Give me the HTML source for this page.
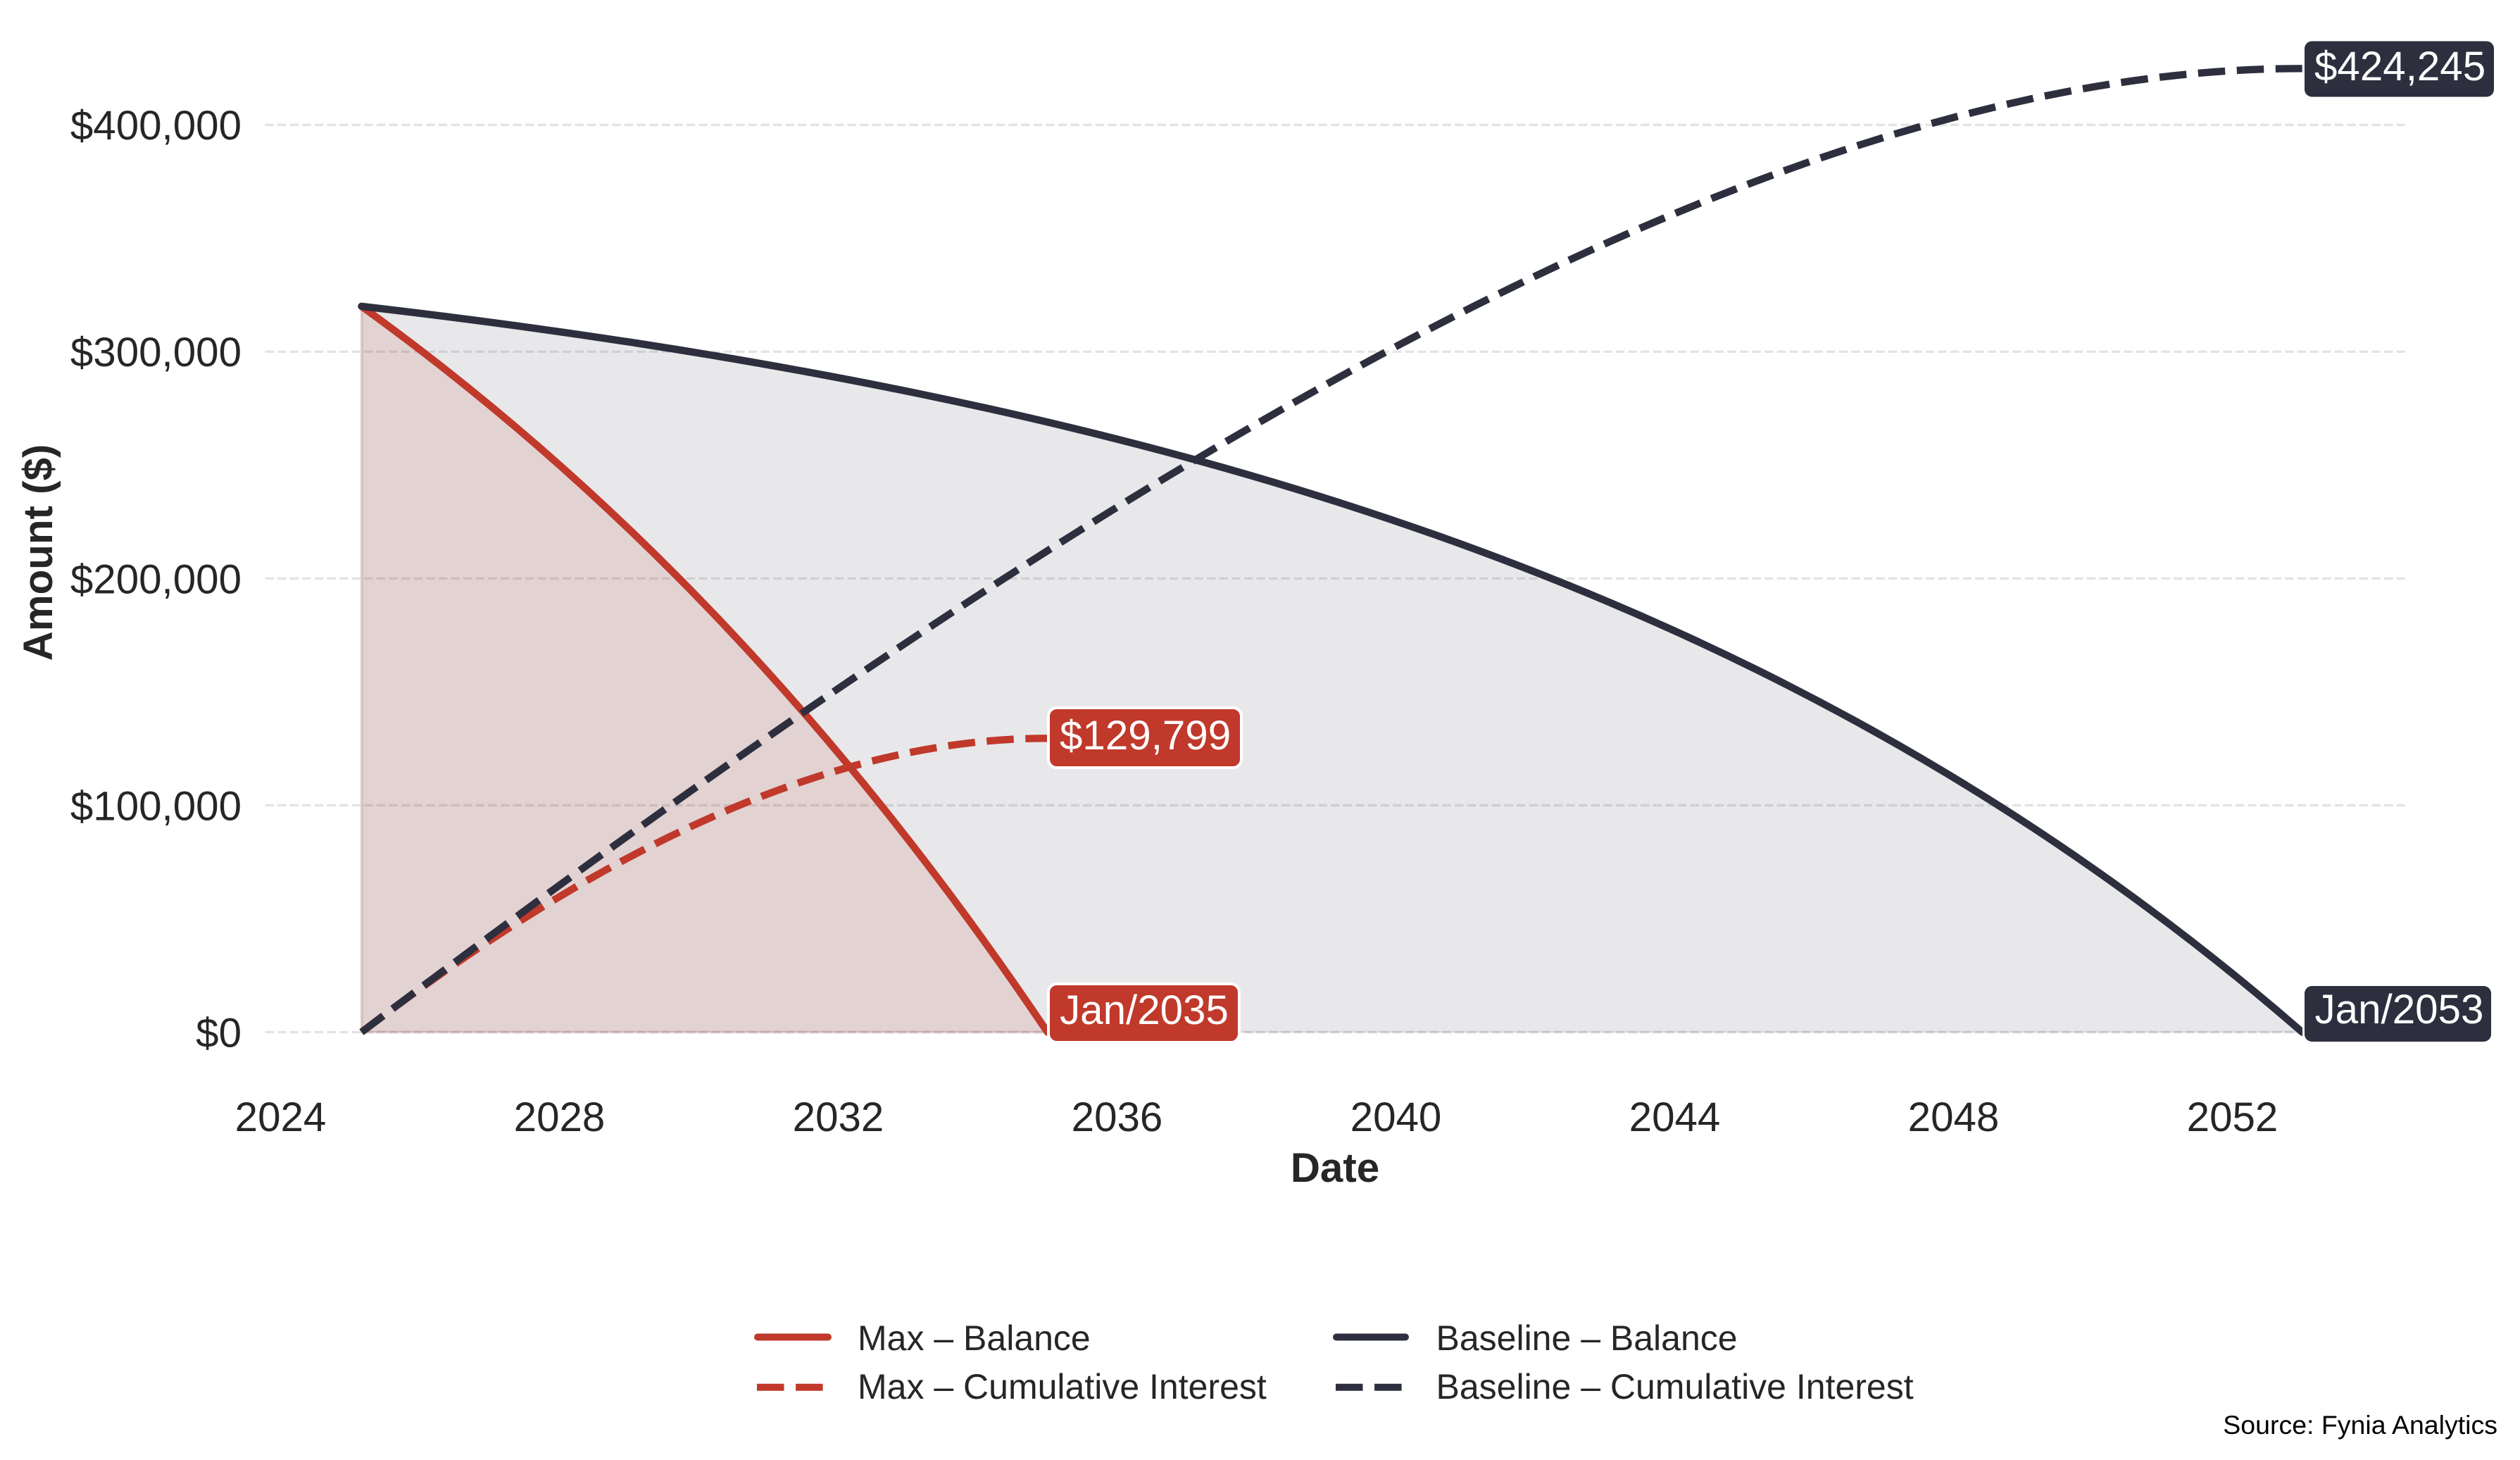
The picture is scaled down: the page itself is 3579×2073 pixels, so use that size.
<!DOCTYPE html>
<html>
<head>
<meta charset="utf-8">
<style>
  html,body{margin:0;padding:0;background:#fff;}
  svg{display:block;}
  text{font-family:"Liberation Sans",Arial,sans-serif;}
</style>
</head>
<body>
<svg xmlns="http://www.w3.org/2000/svg" width="3579" height="2073" viewBox="0 0 3579 2073">
  <rect x="0" y="0" width="3579" height="2073" fill="#ffffff"/>

  <!-- gridlines -->
  <g stroke="#e3e3e3" stroke-width="3.3" stroke-dasharray="12.3 5.3" fill="none">
    <line x1="376.5" y1="177.3" x2="3415.7" y2="177.3"/>
    <line x1="376.5" y1="499.35" x2="3415.7" y2="499.35"/>
    <line x1="376.5" y1="821.4" x2="3415.7" y2="821.4"/>
    <line x1="376.5" y1="1143.45" x2="3415.7" y2="1143.45"/>
    <line x1="376.5" y1="1465.5" x2="3415.7" y2="1465.5"/>
  </g>

  <!-- fills -->
  <path d="M513.5,434.94 C645.5,450.20 777.5,467.67 909.5,488.07 C1041.5,508.47 1173.5,531.80 1305.5,559.06 C1437.5,586.32 1569.5,617.52 1701.5,653.95 C1833.5,690.39 1965.5,732.06 2097.5,780.75 C2229.5,829.44 2361.5,885.14 2493.5,950.21 C2625.5,1015.28 2757.5,1089.72 2889.5,1176.69 C3016.22,1260.18 3142.94,1355.21 3269.66,1465.5 L513.5,1465.5 Z"
        fill="#2E2F3E" fill-opacity="0.11" stroke="#2E2F3E" stroke-opacity="0.08" stroke-width="4"/>
  <path d="M513.5,434.94 C596,494.43 678.5,559.36 761,630.85 C843.5,702.34 926,780.38 1008.5,866.29 C1091,952.20 1173.5,1045.99 1256,1149.23 C1333.22,1245.86 1410.44,1350.74 1487.66,1465.5 L513.5,1465.5 Z"
        fill="#C0392B" fill-opacity="0.12" stroke="#C0392B" stroke-opacity="0.1" stroke-width="4"/>

  <!-- Max lines -->
  <path d="M513.5,434.94 C596,494.43 678.5,559.36 761,630.85 C843.5,702.34 926,780.38 1008.5,866.29 C1091,952.20 1173.5,1045.99 1256,1149.23 C1333.22,1245.86 1410.44,1350.74 1487.66,1465.5"
        fill="none" stroke="#C0392B" stroke-width="10.4" stroke-linecap="round" stroke-linejoin="round"/>
  <path d="M513.5,1465.5 C596,1402.38 678.5,1344.71 761,1293.59 C843.5,1242.47 926,1197.89 1008.5,1161.19 C1091,1124.49 1173.5,1095.68 1256,1076.31 C1333.22,1058.18 1410.44,1048.30 1487.66,1048.30"
        fill="none" stroke="#C0392B" stroke-width="10.4" stroke-dasharray="38.5 16.6" stroke-linecap="butt"/>

  <!-- Baseline lines -->
  <path d="M513.5,434.94 C645.5,450.20 777.5,467.67 909.5,488.07 C1041.5,508.47 1173.5,531.80 1305.5,559.06 C1437.5,586.32 1569.5,617.52 1701.5,653.95 C1833.5,690.39 1965.5,732.06 2097.5,780.75 C2229.5,829.44 2361.5,885.14 2493.5,950.21 C2625.5,1015.28 2757.5,1089.72 2889.5,1176.69 C3016.22,1260.18 3142.94,1355.21 3269.66,1465.5"
        fill="none" stroke="#2E2F3E" stroke-width="10.4" stroke-linecap="round" stroke-linejoin="round"/>
  <path d="M513.5,1465.5 C645.5,1365.88 777.5,1268.45 909.5,1173.97 C1041.5,1079.49 1173.5,987.94 1305.5,900.32 C1437.5,812.70 1569.5,729.00 1701.5,650.55 C1833.5,572.10 1965.5,498.89 2097.5,432.70 C2229.5,366.51 2361.5,307.33 2493.5,257.52 C2625.5,207.71 2757.5,167.26 2889.5,139.34 C3016.22,112.54 3142.94,97.28 3269.66,97.28"
        fill="none" stroke="#2E2F3E" stroke-width="10.4" stroke-dasharray="38.5 16.6" stroke-linecap="butt"/>

  <!-- value labels -->
  <rect x="3271.5" y="57" width="272" height="82" rx="12" ry="12" fill="#2E2F3E" stroke="#ffffff" stroke-width="3"/>
  <text x="3287" y="114" font-size="58.3" fill="#ffffff">$424,245</text>

  <rect x="1489" y="1005" width="274" height="85" rx="12" ry="12" fill="#C0392B" stroke="#ffffff" stroke-width="4"/>
  <text x="1505" y="1064" font-size="58.3" fill="#ffffff">$129,799</text>

  <rect x="1489" y="1397" width="271" height="83" rx="12" ry="12" fill="#C0392B" stroke="#ffffff" stroke-width="4"/>
  <text x="1505" y="1454" font-size="58.3" fill="#ffffff">Jan/2035</text>

  <rect x="3271.5" y="1398.5" width="268" height="82" rx="12" ry="12" fill="#2E2F3E" stroke="#ffffff" stroke-width="3"/>
  <text x="3287.5" y="1453" font-size="58.3" fill="#ffffff">Jan/2053</text>

  <!-- y tick labels -->
  <g font-size="58.3" fill="#262626" text-anchor="end">
    <text x="343" y="198.2">$400,000</text>
    <text x="343" y="520.2">$300,000</text>
    <text x="343" y="842.3">$200,000</text>
    <text x="343" y="1164.3">$100,000</text>
    <text x="343" y="1486.4">$0</text>
  </g>

  <!-- x tick labels -->
  <g font-size="58.3" fill="#262626" text-anchor="middle">
    <text x="398.5" y="1606">2024</text>
    <text x="794.5" y="1606">2028</text>
    <text x="1190.5" y="1606">2032</text>
    <text x="1586.5" y="1606">2036</text>
    <text x="1982.5" y="1606">2040</text>
    <text x="2378.5" y="1606">2044</text>
    <text x="2774.5" y="1606">2048</text>
    <text x="3170.5" y="1606">2052</text>
  </g>

  <!-- axis titles -->
  <text x="1896" y="1678" font-size="58.3" font-weight="bold" fill="#262626" text-anchor="middle">Date</text>
  <text transform="translate(74,784.5) rotate(-90)" font-size="58.3" font-weight="bold" fill="#262626" text-anchor="middle">Amount ($)</text>

  <!-- legend -->
  <line x1="1076" y1="1898.5" x2="1176" y2="1898.5" stroke="#C0392B" stroke-width="10" stroke-linecap="round"/>
  <line x1="1075" y1="1969.7" x2="1181" y2="1969.7" stroke="#C0392B" stroke-width="10" stroke-dasharray="38.5 16.6"/>
  <text x="1218" y="1917" font-size="50" fill="#262626">Max – Balance</text>
  <text x="1218" y="1986" font-size="50" fill="#262626">Max – Cumulative Interest</text>

  <line x1="1898" y1="1898.5" x2="1996" y2="1898.5" stroke="#2E2F3E" stroke-width="10" stroke-linecap="round"/>
  <line x1="1897" y1="1969.7" x2="2002" y2="1969.7" stroke="#2E2F3E" stroke-width="10" stroke-dasharray="38.5 16.6"/>
  <text x="2039.5" y="1917" font-size="50" fill="#262626">Baseline – Balance</text>
  <text x="2039.5" y="1986" font-size="50" fill="#262626">Baseline – Cumulative Interest</text>

  <!-- source -->
  <text x="3547" y="2036" font-size="37.5" fill="#000000" text-anchor="end">Source: Fynia Analytics</text>
</svg>
</body>
</html>
